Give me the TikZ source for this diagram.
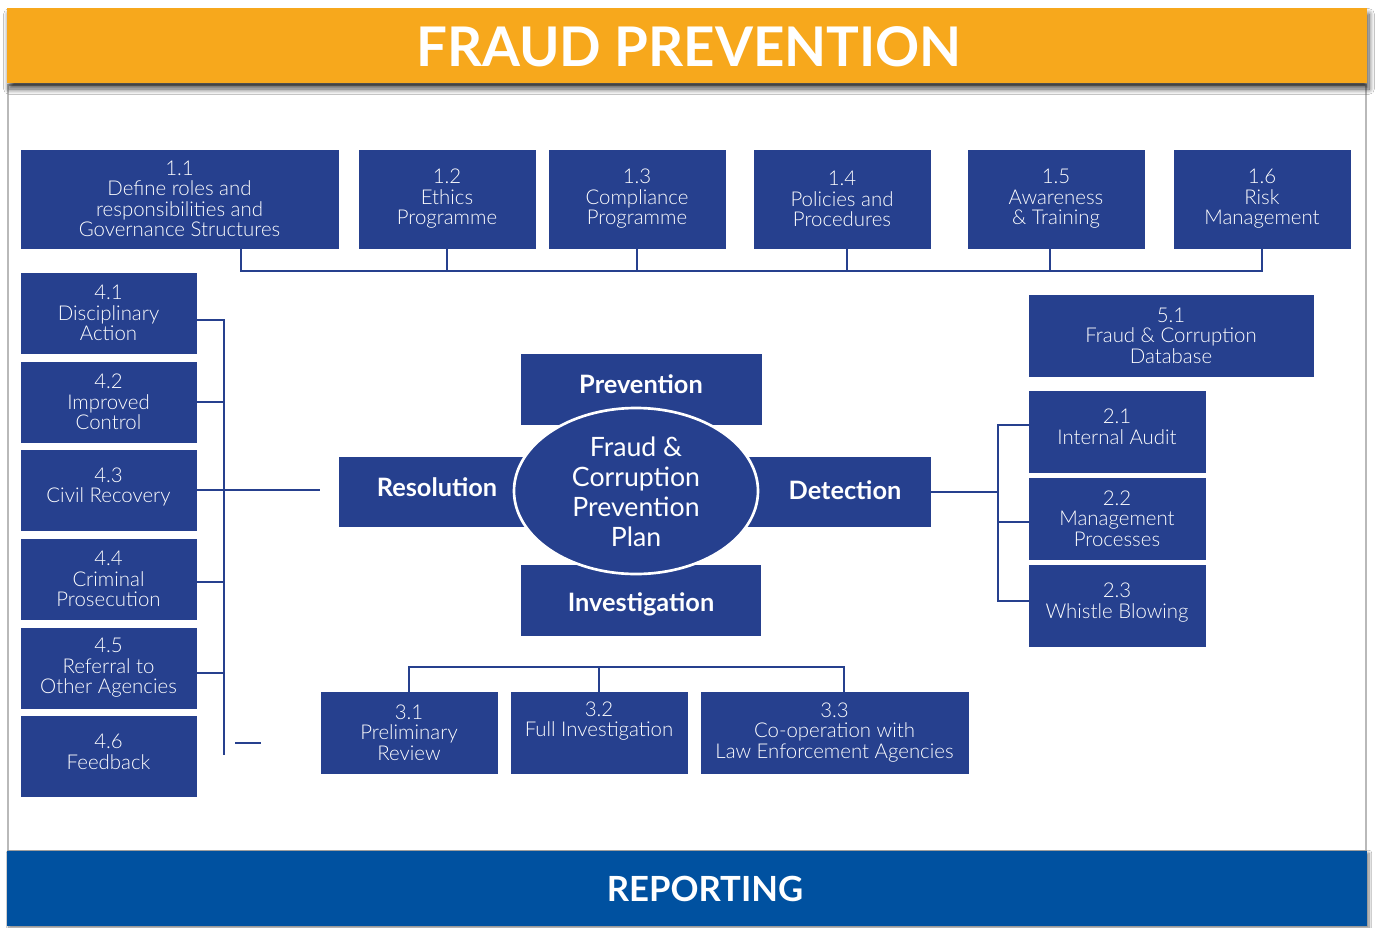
\documentclass[tikz,border=0pt]{standalone}
\usepackage{fontspec}
\setmainfont{Lato}
\newfontfamily\thinfont{Lato Light}
\usetikzlibrary{shapes.geometric,shadows.blur,calc}
\definecolor{navy}{RGB}{38,64,142}
\definecolor{amber}{RGB}{247,168,28}
\definecolor{royal}{RGB}{0,81,160}
\begin{document}
\begin{tikzpicture}[x=0.75pt,y=-0.75pt,
  box/.style={fill=navy, draw=navy, text=white, align=center, inner sep=0pt,
    font=\thinfont\fontsize{15.3}{15.4}\selectfont, minimum height=60.75pt, minimum width=132pt},
  hub/.style={fill=navy, inner sep=0pt, minimum height=52.5pt},
  hubtext/.style={text=white, inner sep=0pt, font=\bfseries\fontsize{19}{22}\selectfont},
  conn/.style={draw=navy, line width=1.8pt}]

\useasboundingbox[fill=white] (0,0) rectangle (1375,928);

% page frame
\draw[gray!55, line width=0.9pt] (8,85) rectangle (1366,851);

% banners
\node (hdr) [fill=amber, inner sep=0pt, minimum width=1020pt, minimum height=56.25pt,
  blur shadow={shadow xshift=1.5pt, shadow yshift=-4.5pt, shadow blur radius=4pt,
  shadow opacity=70, shadow blur steps=10}] at (687,45.5) {};
\node (hdrtext) [text=white, font=\bfseries\fontsize{41}{44}\selectfont] at (689,47) {FRAUD PREVENTION};
\node (ftr) [fill=royal, inner sep=0pt, minimum width=1020pt, minimum height=56.25pt,
  blur shadow={shadow xshift=1.5pt, shadow yshift=-1.5pt, shadow opacity=50, shadow blur steps=8}] at (687,888.5) {};
\node (ftrtext) [text=white, font=\bfseries\fontsize{26}{30}\selectfont] at (705,889) {REPORTING};

% top row
\node (b11) [box, minimum width=237.75pt, minimum height=73.5pt] at (179.5,199) {1.1\\Define roles and\\responsibilities and\\Governance Structures};
\node (b12) [box, minimum height=73.5pt] at (447,199) {1.2\\Ethics\\Programme};
\node (b13) [box, minimum height=73.5pt] at (637,199) {1.3\\Compliance\\Programme};
\node (b14) [box, minimum height=73.5pt] at (842,199) {1.4\\Policies and\\Procedures};
\node (b15) [box, minimum height=73.5pt] at (1056,199) {1.5\\Awareness\\\& Training};
\node (b16) [box, minimum height=73.5pt] at (1262,199) {1.6\\Risk\\Management};

% resolution column
\node (b41) [box, minimum width=131.25pt, minimum height=60pt] at (108.5,313) {4.1\\Disciplinary\\Action};
\node (b42) [box, minimum width=131.25pt, minimum height=60pt] at (108.5,402) {4.2\\Improved\\Control};
\node (b43) [box, minimum width=131.25pt, minimum height=60pt] at (108.5,490) {4.3\\Civil Recovery\\[-8pt]};
\node (b44) [box, minimum width=131.25pt, minimum height=60pt] at (108.5,579) {4.4\\Criminal\\Prosecution};
\node (b45) [box, minimum width=131.25pt, minimum height=60pt] at (108.5,668) {4.5\\Referral to\\Other Agencies};
\node (b46) [box, minimum width=131.25pt, minimum height=60pt] at (108.5,756.5) {4.6\\Feedback\\[-8pt]};

% detection column and database
\node (b51) [box, minimum width=213pt] at (1171,335.5) {5.1\\Fraud \& Corruption\\Database};
\node (b21) [box] at (1117,431.5) {2.1\\Internal Audit\\[-8pt]};
\node (b22) [box] at (1117,518.5) {2.2\\Management\\Processes};
\node (b23) [box] at (1117,605.5) {2.3\\Whistle Blowing\\[-8pt]};

% investigation row
\node (b31) [box] at (409,732.5) {3.1\\Preliminary\\Review};
\node (b32) [box] at (599,732.5) {3.2\\Full Investigation\\\strut};
\node (b33) [box, minimum width=200.25pt] at (834.5,732.5) {3.3\\Co-operation with\\Law Enforcement Agencies};

% central cross
\node (res) [hub, minimum width=165.75pt] at (449.5,492) {};
\node (det) [hub, minimum width=158.25pt] at (825.5,492) {};
\node (prev) [hub, minimum width=180.75pt, minimum height=53.25pt] at (641.5,389.5) {};
\node (inv) [hub, minimum width=180pt, minimum height=53.25pt] at (641,600.5) {};
\node (plan) [ellipse, fill=navy, draw=white, line width=2pt, inner sep=0pt,
  minimum width=183pt, minimum height=124.5pt] at (636,491) {};
\node (plantext) [text=white, align=center, font=\fontsize{20}{22.5}\selectfont] at (636,492)
  {Fraud \&\\Corruption\\Prevention\\Plan};
\node (restext) [hubtext] at (437,487) {Resolution};
\node (dettext) [hubtext] at (845,490) {Detection};
\node (prevtext) [hubtext] at (641,384) {Prevention};
\node (invtext) [hubtext] at (641,604) {Investigation};

% connector ends and bus lines
\coordinate (t11) at (241,271);
\coordinate (t33) at (844,667);
\coordinate (lbus) at (224,755);
\coordinate (resend) at (320,490);
\coordinate (dashA) at (235,743);
\coordinate (dashB) at (261,743);
\coordinate (rbus) at (998,0);

% prevention bus
\draw[conn] (b11.south -| t11) -- (t11) -| (b16.south);
\foreach \n in {12,13} \draw[conn] (b\n.south) -- (b\n.south |- t11);
\draw[conn] ([xshift=3.75pt]b14.south) -- ([xshift=3.75pt]b14.south |- t11);
\draw[conn] ([xshift=-4.5pt]b15.south) -- ([xshift=-4.5pt]b15.south |- t11);

% resolution bus
\draw[conn] ([yshift=-5.25pt]b41.east) -- ([yshift=-5.25pt]b41.east -| lbus) -- (lbus);
\draw[conn] (b42.east) -- (b42.east -| lbus);
\draw[conn] ([yshift=-2.25pt]b44.east) -- ([yshift=-2.25pt]b44.east -| lbus);
\draw[conn] ([yshift=-3.75pt]b45.east) -- ([yshift=-3.75pt]b45.east -| lbus);
\draw[conn] (b43.east) -- (resend);
\draw[conn] (dashA) -- (dashB);

% detection bus
\draw[conn] (det.east) -- (det.east -| rbus);
\draw[conn] ([yshift=4.9pt]b21.west) -- ([yshift=4.9pt]b21.west -| rbus)
  -- ([yshift=3.4pt]b23.west -| rbus) -- ([yshift=3.4pt]b23.west);
\draw[conn] ([yshift=-2.6pt]b22.west) -- ([yshift=-2.6pt]b22.west -| rbus);

% investigation bus
\draw[conn] (b31.north) -- (b31.north |- t33) -- (t33) -- (t33 |- b33.north);
\draw[conn] (b32.north) -- (b32.north |- t33);
\end{tikzpicture}
\end{document}
